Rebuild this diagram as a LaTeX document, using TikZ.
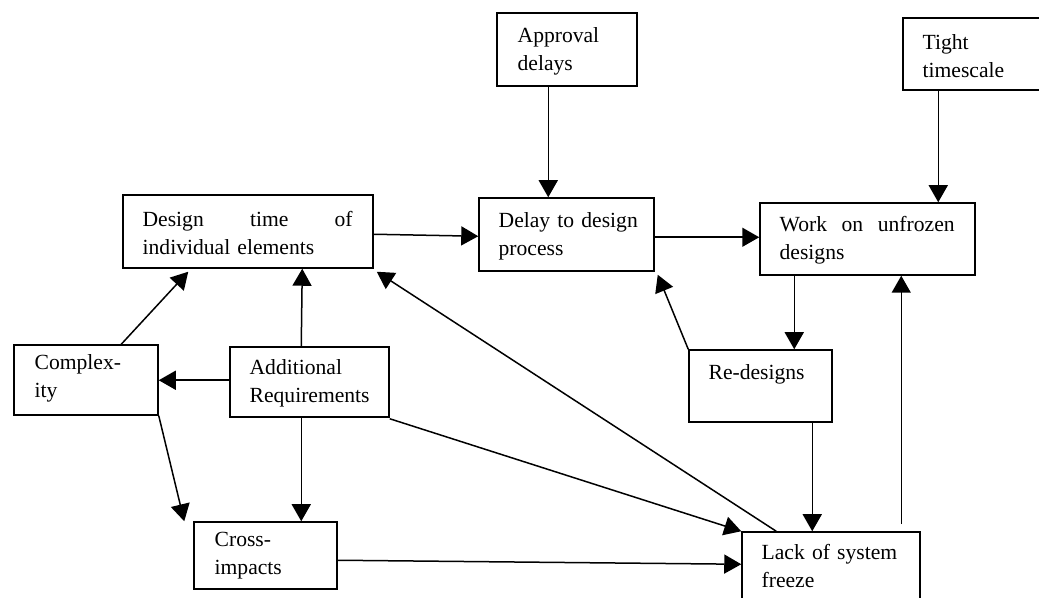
\documentclass[tikz,border=0pt]{standalone}
\usepackage{fontspec}
\setmainfont{Liberation Serif}
\usetikzlibrary{arrows.meta,fit,calc}
\begin{document}
\begin{tikzpicture}[x=0.5pt,y=-0.5pt,
  box/.style={draw, line width=0.75pt, inner sep=0pt},
  lbl/.style={anchor=base west, inner sep=0pt, align=left, text width=#1,
    font=\fontsize{10.8}{14}\selectfont},
  lbl/.default=130pt,
  arr/.style={line width=0.75pt, -{Triangle[length=8.5pt,width=9.5pt]}},
]
\useasboundingbox (0,0) rectangle (1039,598);
\clip (0,0) rectangle (1039,598);

% boxes
\node[box, fit={(497,13) (637,86)}] (ap) {};
\node[box, fit={(903,18) (1070,90)}] (ts) {};
\node[box, fit={(123,195) (373,268)}] (dt) {};
\node[box, fit={(479,198) (654,271)}] (dl) {};
\node[box, fit={(760,203) (975,275)}] (wk) {};
\node[box, fit={(14,345) (158,415)}] (cx) {};
\node[box, fit={(230,347) (389,417)}] (ar) {};
\node[box, fit={(689,350) (832,422)}] (rd) {};
\node[box, fit={(194,522) (337,589)}] (ci) {};
\node[box, fit={(742,532) (920,640)}] (lk) {};

% labels
\node[lbl] (apT) at ($(ap.north west)+(21,30)$) {Approval\\delays};
\node[lbl] (tsT) at ($(ts.north west)+(20,32)$) {Tight\\timescale};
\node[lbl=105pt] (dtT) at ($(dt.north west)+(20,32)$) {Design\hfill time\hfill of\\individual elements};
\node[lbl] (dlT) at ($(dl.north west)+(20,30)$) {Delay to design\\process};
\node[lbl=87.5pt] (wkT) at ($(wk.north west)+(20,29)$) {Work\hfill on\hfill unfrozen\\designs};
\node[lbl] (cxT) at ($(cx.north west)+(21,25)$) {Complex-\\ity};
\node[lbl] (arT) at ($(ar.north west)+(20,28)$) {Additional\\Requirements};
\node[lbl] (rdT) at ($(rd.north west)+(20,30)$) {Re-designs};
\node[lbl] (ciT) at ($(ci.north west)+(21,25)$) {Cross-\\impacts};
\node[lbl] (lkT) at ($(lk.north west)+(20,28)$) {Lack of system\\freeze};

% connectors
\draw[arr] ($(ap.south west)+(52,0)$) -- ($(dl.north west)+(70,0)$);
\draw[arr] ($(ts.south west)+(36,0)$) -- ($(wk.north west)+(179,0)$);
\draw[arr] ($(dt.north east)+(0,40)$) -- ($(dl.north west)+(0,39)$);
\draw[arr] ($(dl.north east)+(0,40)$) -- ($(wk.north west)+(0,35)$);
\draw[arr] ($(wk.south west)+(35,0)$) -- ($(rd.north west)+(106,0)$);
\draw[arr] (rd.north west) -- ($(dl.south east)+(3,3)$);
\draw[arr] ($(rd.south west)+(124,0)$) -- ($(lk.north west)+(71,0)$);
\draw[arr] ($(lk.north west)+(160,-7)$) -- ($(wk.south west)+(142,0)$);
\draw[arr] ($(ar.north west)+(0,34)$) -- ($(cx.north east)+(0,36)$);
\draw[arr] ($(ar.north west)+(72,0)$) -- ($(dt.south west)+(180,0)$);
\draw[arr] ($(ar.south west)+(72,0)$) -- ($(ci.north west)+(108,0)$);
\draw[arr] ($(ar.south east)+(0,1)$) -- (lk.north west);
\draw[arr] ($(cx.north west)+(108,0)$) -- ($(dt.south west)+(66,3)$);
\draw[arr] (cx.south east) -- ($(ci.north west)+(-9,0)$);
\draw[arr] ($(ci.north east)+(0,39)$) -- ($(lk.north west)+(0,33)$);
\draw[arr] ($(lk.north west)+(35,0)$) -- ($(dt.south east)+(3,3)$);
\end{tikzpicture}
\end{document}
